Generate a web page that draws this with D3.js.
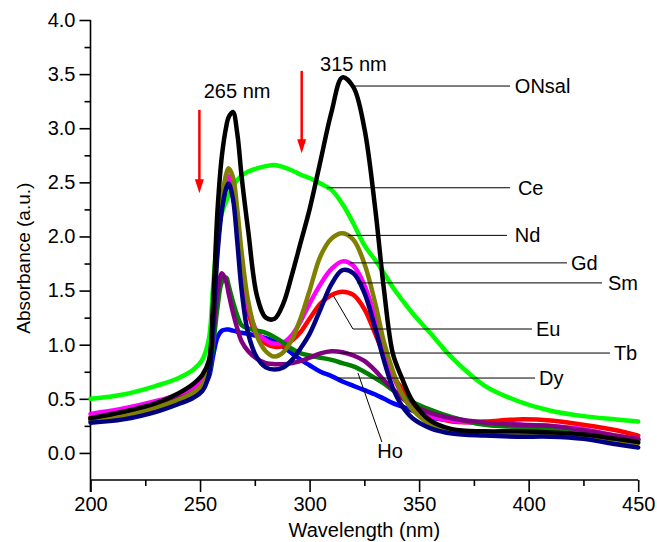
<!DOCTYPE html>
<html>
<head>
<meta charset="utf-8">
<script src="https://cdn.jsdelivr.net/npm/d3@7"></script>
<style>
  body { margin: 0; background: #fff; }
  text { font-family: "Liberation Sans", Arial, Helvetica, sans-serif; fill: #000; }
</style>
</head>
<body>
<div id="main"></div>
<script>
// shared wavelength grid (nm)
const wavelengths = [200, 215, 230, 240, 247, 251, 254, 256, 258, 260, 262, 263, 265, 267, 269, 272, 276, 280, 284, 288,
    292, 296, 300, 305, 310, 315, 320, 325, 330, 334, 338, 342, 347, 355, 365, 380, 395, 410, 425, 440, 450];

const onsal = [0.32, 0.38, 0.46, 0.55, 0.64, 0.72, 0.85, 1.40, 2.25, 2.75, 3.02, 3.10, 3.15, 2.95, 2.55, 2.05, 1.45, 1.25, 1.24, 1.38,
    1.65, 1.95, 2.25, 2.70, 3.15, 3.47, 3.38, 3.00, 2.25, 1.50, 0.92, 0.70, 0.48, 0.30, 0.22, 0.20, 0.20, 0.19, 0.17, 0.13, 0.10];
const ce = [0.50, 0.54, 0.62, 0.69, 0.77, 0.86, 1.05, 1.55, 2.00, 2.22, 2.33, 2.38, 2.46, 2.52, 2.56, 2.60, 2.63, 2.65, 2.66, 2.64,
    2.61, 2.57, 2.54, 2.49, 2.43, 2.30, 2.12, 1.92, 1.78, 1.66, 1.53, 1.42, 1.29, 1.11, 0.88, 0.62, 0.48, 0.39, 0.34, 0.31, 0.29];
const nd = [0.30, 0.34, 0.42, 0.49, 0.56, 0.63, 0.78, 1.30, 1.95, 2.35, 2.58, 2.63, 2.55, 2.25, 1.85, 1.40, 1.08, 0.94, 0.89, 0.93,
    1.05, 1.25, 1.50, 1.82, 1.98, 2.03, 1.97, 1.75, 1.38, 1.02, 0.76, 0.55, 0.40, 0.27, 0.21, 0.18, 0.17, 0.17, 0.15, 0.11, 0.09];
const gd = [0.36, 0.41, 0.48, 0.54, 0.60, 0.66, 0.80, 1.30, 1.95, 2.32, 2.52, 2.56, 2.45, 2.10, 1.70, 1.35, 1.12, 1.04, 1.01, 1.02,
    1.09, 1.22, 1.38, 1.56, 1.70, 1.77, 1.73, 1.55, 1.25, 0.95, 0.72, 0.55, 0.43, 0.34, 0.30, 0.27, 0.26, 0.25, 0.22, 0.16, 0.13];
const sm = [0.28, 0.31, 0.38, 0.45, 0.51, 0.57, 0.72, 1.20, 1.85, 2.25, 2.45, 2.49, 2.35, 1.95, 1.50, 1.10, 0.88, 0.79, 0.77, 0.79,
    0.86, 0.97, 1.10, 1.33, 1.56, 1.69, 1.66, 1.48, 1.15, 0.85, 0.60, 0.44, 0.32, 0.23, 0.18, 0.16, 0.15, 0.15, 0.13, 0.08, 0.05];
const eu = [0.33, 0.37, 0.44, 0.50, 0.56, 0.62, 0.76, 1.25, 1.90, 2.28, 2.45, 2.48, 2.38, 2.05, 1.65, 1.30, 1.08, 1.01, 0.98, 0.99,
    1.04, 1.12, 1.24, 1.38, 1.46, 1.49, 1.46, 1.33, 1.10, 0.90, 0.72, 0.60, 0.47, 0.35, 0.29, 0.29, 0.31, 0.30, 0.26, 0.21, 0.16];
const tb = [0.30, 0.34, 0.41, 0.48, 0.54, 0.60, 0.70, 0.90, 1.07, 1.13, 1.14, 1.14, 1.13, 1.12, 1.11, 1.10, 1.08, 1.06, 1.03, 0.98,
    0.92, 0.86, 0.81, 0.75, 0.71, 0.66, 0.62, 0.58, 0.54, 0.50, 0.46, 0.43, 0.39, 0.33, 0.30, 0.28, 0.26, 0.24, 0.20, 0.15, 0.12];
const dy = [0.31, 0.35, 0.42, 0.48, 0.54, 0.60, 0.72, 1.00, 1.35, 1.58, 1.62, 1.55, 1.40, 1.27, 1.18, 1.15, 1.13, 1.11, 1.07, 1.02,
    0.96, 0.92, 0.90, 0.88, 0.86, 0.83, 0.80, 0.75, 0.69, 0.64, 0.58, 0.53, 0.47, 0.40, 0.33, 0.26, 0.24, 0.22, 0.19, 0.14, 0.12];
const ho = [0.32, 0.36, 0.43, 0.50, 0.56, 0.62, 0.75, 1.10, 1.48, 1.66, 1.58, 1.48, 1.30, 1.15, 1.03, 0.94, 0.87, 0.83, 0.82, 0.82,
    0.83, 0.85, 0.88, 0.92, 0.94, 0.93, 0.90, 0.85, 0.76, 0.67, 0.59, 0.51, 0.44, 0.37, 0.32, 0.28, 0.26, 0.25, 0.21, 0.16, 0.13];

const xTicks = [200, 250, 300, 350, 400, 450];
const yTicks = [0.0, 0.5, 1.0, 1.5, 2.0, 2.5, 3.0, 3.5, 4.0];

// draw order: last one ends up on top
const series = [
    {name: "Ce", values: ce, color: "#00ff00"},
    {name: "Tb", values: tb, color: "#0000ff"},
    {name: "Eu", values: eu, color: "#ff0000"},
    {name: "Gd", values: gd, color: "#ff00ff"},
    {name: "Dy", values: dy, color: "#007f00"},
    {name: "Ho", values: ho, color: "#800080"},
    {name: "Nd", values: nd, color: "#808000"},
    {name: "Sm", values: sm, color: "#000080"},
    {name: "ONsal", values: onsal, color: "#000000"},
];

// label callouts, in data units: leader from [wl, A] through points, label at end
const callouts = [
    {text: "ONsal", pts: [[319.3, 3.39], [391.5, 3.39]], label: [393.7, 3.39]},
    {text: "Ce", pts: [[307.9, 2.45], [391.5, 2.45]], label: [395.1, 2.45]},
    {text: "Nd", pts: [[317.5, 2.01], [390.1, 2.01]], label: [393.7, 2.01]},
    {text: "Gd", pts: [[318.4, 1.756], [417.5, 1.756]], label: [419.3, 1.756]},
    {text: "Sm", pts: [[321.6, 1.571], [433.5, 1.571]], label: [436.2, 1.571]},
    {text: "Eu", pts: [[310.7, 1.459], [319.8, 1.145], [401.5, 1.145]], label: [403.3, 1.145]},
    {text: "Tb", pts: [[313.9, 0.923], [437.1, 0.923]], label: [438.9, 0.923]},
    {text: "Dy", pts: [[312.5, 0.692], [402.9, 0.692]], label: [404.7, 0.692]},
];
const hoCallout = {pts: [[322.1, 0.738], [333.0, 0.101]], label: [336.7, -0.047]};
const peakLabels = [
    {text: "265 nm", at: [266.9, 3.28]},
    {text: "315 nm", at: [320.0, 3.53]},
];
const arrows = [
    {wl: 249.7, from: 3.17, to: 2.40},
    {wl: 296.4, from: 3.53, to: 2.77},
];

const ctx = {w: 657, h: 542};

function createViz() {
    let svg = d3.select("#main").append("svg")
        .attr("width", ctx.w)
        .attr("height", ctx.h);

    let x = d3.scaleLinear().domain([200, 450]).range([90.5, 638.2]);
    let y = d3.scaleLinear().domain([-0.25, 4.0]).range([480, 20]);

    // axes
    svg.append("g")
        .attr("transform", "translate(0," + y(-0.25) + ")")
        .call(d3.axisBottom(x).tickValues(xTicks).tickSize(12).tickPadding(5).tickFormat(d3.format("d")));
    svg.append("g")
        .attr("transform", "translate(0," + y(-0.25) + ")")
        .call(d3.axisBottom(x).tickValues(d3.range(225, 450, 50)).tickSize(6).tickFormat(""));
    svg.append("g")
        .attr("transform", "translate(" + x(200) + ",0)")
        .call(d3.axisLeft(y).tickValues(yTicks).tickSize(11).tickPadding(4).tickFormat(d3.format(".1f")));
    svg.append("g")
        .attr("transform", "translate(" + x(200) + ",0)")
        .call(d3.axisLeft(y).tickValues(d3.range(0.25, 4, 0.5)).tickSize(6).tickFormat(""));

    svg.selectAll(".domain").remove();
    svg.append("line")
        .attr("x1", x(200)).attr("x2", x(450))
        .attr("y1", y(-0.25)).attr("y2", y(-0.25))
        .attr("stroke", "#000").attr("stroke-width", 1.6);
    svg.append("line")
        .attr("x1", x(200)).attr("x2", x(200))
        .attr("y1", y(4.0)).attr("y2", y(-0.25) + 12)
        .attr("stroke", "#000").attr("stroke-width", 1.6);
    svg.selectAll(".tick line").attr("stroke", "#000").attr("stroke-width", 1.6);
    svg.selectAll(".tick text").style("font-size", "20px").attr("fill", "#000");

    svg.append("text")
        .attr("x", (x(200) + x(450)) / 2)
        .attr("y", 537)
        .attr("text-anchor", "middle")
        .style("font-size", "20px")
        .text("Wavelength (nm)");
    svg.append("text")
        .attr("transform", "translate(30," + y(1.8) + ") rotate(-90)")
        .attr("text-anchor", "middle")
        .style("font-size", "19px")
        .text("Absorbance (a.u.)");

    // spectra
    let line = d3.line()
        .x((d, i) => x(wavelengths[i]))
        .y(d => y(d))
        .curve(d3.curveCatmullRom.alpha(0.5));

    svg.append("g").selectAll("path")
        .data(series)
        .enter().append("path")
        .attr("d", d => line(d.values))
        .attr("fill", "none")
        .attr("stroke", d => d.color)
        .attr("stroke-width", 4.5)
        .attr("stroke-linejoin", "round")
        .attr("stroke-linecap", "round");

    // leaders + labels
    let leader = d3.line().x(d => x(d[0])).y(d => y(d[1]));
    let cg = svg.append("g");
    callouts.forEach(c => {
        cg.append("path")
            .attr("d", leader(c.pts))
            .attr("fill", "none")
            .attr("stroke", "#000")
            .attr("stroke-width", 1);
        cg.append("text")
            .attr("x", x(c.label[0]))
            .attr("y", y(c.label[1]))
            .attr("dy", "0.35em")
            .style("font-size", "20px")
            .text(c.text);
    });
    cg.append("path")
        .attr("d", leader(hoCallout.pts))
        .attr("fill", "none")
        .attr("stroke", "#000")
        .attr("stroke-width", 1);
    cg.append("text")
        .attr("x", x(hoCallout.label[0]))
        .attr("y", y(hoCallout.label[1]))
        .attr("text-anchor", "middle")
        .style("font-size", "20px")
        .text("Ho");

    peakLabels.forEach(p => {
        cg.append("text")
            .attr("x", x(p.at[0]))
            .attr("y", y(p.at[1]))
            .attr("text-anchor", "middle")
            .style("font-size", "20px")
            .text(p.text);
    });

    // red arrows
    arrows.forEach(a => {
        let xa = x(a.wl), y0 = y(a.from), y1 = y(a.to);
        cg.append("line")
            .attr("x1", xa).attr("x2", xa)
            .attr("y1", y0).attr("y2", y1 - 12)
            .attr("stroke", "#ff0000")
            .attr("stroke-width", 2.5);
        cg.append("path")
            .attr("d", "M" + (xa - 4.5) + "," + (y1 - 14) + "L" + (xa + 4.5) + "," + (y1 - 14) + "L" + xa + "," + y1 + "Z")
            .attr("fill", "#ff0000");
    });
}

createViz();
</script>
</body>
</html>
